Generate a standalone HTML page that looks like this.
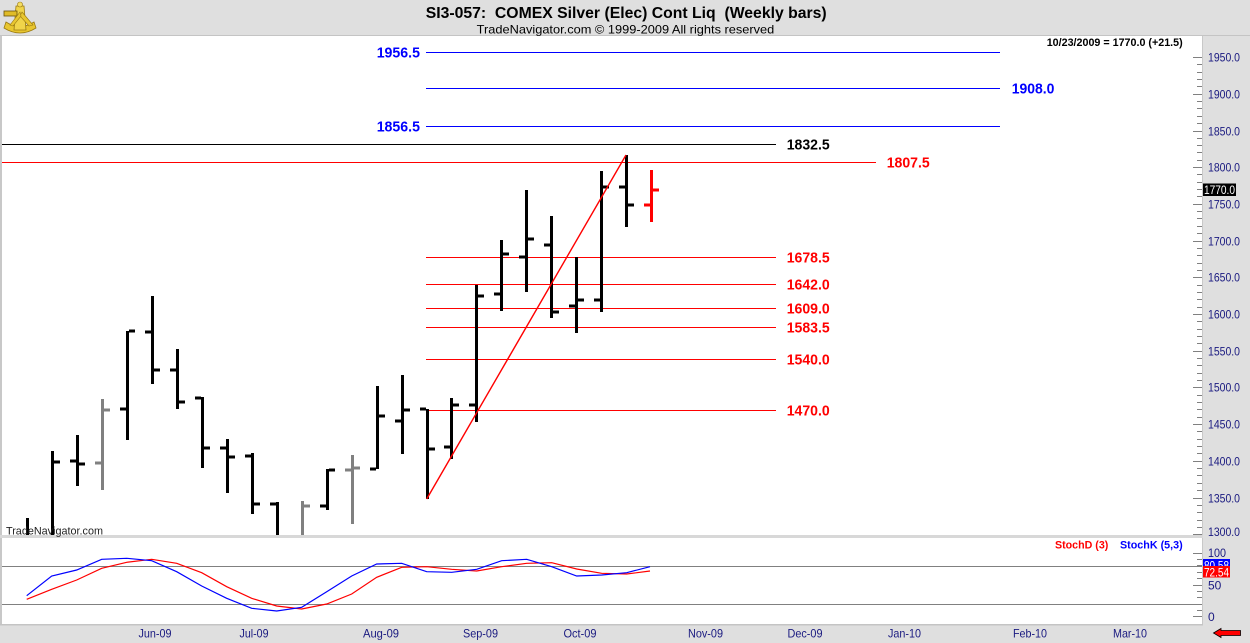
<!DOCTYPE html>
<html>
<head>
<meta charset="utf-8">
<style>
html,body{margin:0;padding:0;background:#dfdfdf;}
svg{display:block;}
text{font-family:"Liberation Sans",Arial,sans-serif;}
</style>
</head>
<body>
<svg width="1250" height="643" viewBox="0 0 1250 643" xmlns="http://www.w3.org/2000/svg">
<!-- backgrounds -->
<rect x="0" y="0" width="1250" height="643" fill="#dfdfdf"/>
<rect x="0" y="35" width="1250" height="1" fill="#c4c4c4"/>
<rect x="2" y="36" width="1200" height="499" fill="#ffffff"/>
<rect x="2" y="538" width="1200" height="86" fill="#ffffff"/>
<rect x="0" y="36" width="2" height="589" fill="#c8c8c8"/>
<rect x="1202" y="36" width="1" height="589" fill="#c8c8c8"/>
<rect x="0" y="535" width="1203" height="3" fill="#d8d8d8"/>
<rect x="0" y="624" width="1203" height="1.5" fill="#c4c4c4"/>

<!-- logo -->
<g>
<path d="M6,22 Q20,31 34,22 L36,28 Q20,38 4,28 Z" fill="#e8c630" stroke="#9a7a10" stroke-width="0.8"/>
<path d="M16,6 L24,6 L26,30 L14,30 Z" fill="#f0d44a" stroke="#9a7a10" stroke-width="0.8"/>
<rect x="4" y="11" width="13" height="5" fill="#e0bc28" stroke="#6a500c" stroke-width="0.8"/>
<path d="M22,12 L33,25 L29,26 L20,16 Z" fill="#e8c630" stroke="#9a7a10" stroke-width="0.6"/>
<path d="M20,12 L10,25 L13,26 L21,16 Z" fill="#e8c630" stroke="#9a7a10" stroke-width="0.6"/>
<circle cx="20" cy="4.5" r="2.5" fill="#f4dc60" stroke="#9a7a10" stroke-width="0.6"/>
</g>

<!-- title -->
<text x="425.7" y="18" font-size="16" font-weight="bold" fill="#000" textLength="401" lengthAdjust="spacingAndGlyphs" xml:space="preserve">SI3-057:  COMEX Silver (Elec) Cont Liq  (Weekly bars)</text>
<text x="476.7" y="33.5" font-size="12" fill="#000" textLength="297.6" lengthAdjust="spacingAndGlyphs">TradeNavigator.com © 1999-2009 All rights reserved</text>

<!-- date label -->
<text x="1046.7" y="46" font-size="11" font-weight="bold" fill="#000" textLength="136" lengthAdjust="spacingAndGlyphs">10/23/2009 = 1770.0 (+21.5)</text>

<!-- horizontal level lines -->
<g stroke-width="1" shape-rendering="crispEdges">
<line x1="426" y1="52.5" x2="1000" y2="52.5" stroke="#0000ff"/>
<line x1="426" y1="88.5" x2="1000" y2="88.5" stroke="#0000ff"/>
<line x1="426" y1="126.5" x2="1000" y2="126.5" stroke="#0000ff"/>
<line x1="2" y1="144.5" x2="776" y2="144.5" stroke="#000000"/>
<line x1="2" y1="162.5" x2="876" y2="162.5" stroke="#ff0000"/>
<line x1="426" y1="257.5" x2="776" y2="257.5" stroke="#ff0000"/>
<line x1="426" y1="284.5" x2="776" y2="284.5" stroke="#ff0000"/>
<line x1="426" y1="308.5" x2="776" y2="308.5" stroke="#ff0000"/>
<line x1="426" y1="327.5" x2="776" y2="327.5" stroke="#ff0000"/>
<line x1="426" y1="359.5" x2="776" y2="359.5" stroke="#ff0000"/>
<line x1="426" y1="410.5" x2="776" y2="410.5" stroke="#ff0000"/>
</g>

<!-- level labels -->
<g font-size="15" font-weight="bold">
<text x="376.7" y="57.5" fill="#0000ff" textLength="43.3" lengthAdjust="spacingAndGlyphs">1956.5</text>
<text x="1011.7" y="93.5" fill="#0000ff" textLength="42.7" lengthAdjust="spacingAndGlyphs">1908.0</text>
<text x="376.7" y="131.5" fill="#0000ff" textLength="43.3" lengthAdjust="spacingAndGlyphs">1856.5</text>
<text x="786.7" y="149.5" fill="#000000" textLength="43" lengthAdjust="spacingAndGlyphs">1832.5</text>
<text x="886.7" y="167.5" fill="#ff0000" textLength="43" lengthAdjust="spacingAndGlyphs">1807.5</text>
<text x="786.7" y="262.5" fill="#ff0000" textLength="43" lengthAdjust="spacingAndGlyphs">1678.5</text>
<text x="786.7" y="289.5" fill="#ff0000" textLength="43" lengthAdjust="spacingAndGlyphs">1642.0</text>
<text x="786.7" y="313.5" fill="#ff0000" textLength="43" lengthAdjust="spacingAndGlyphs">1609.0</text>
<text x="786.7" y="332.5" fill="#ff0000" textLength="43" lengthAdjust="spacingAndGlyphs">1583.5</text>
<text x="786.7" y="364.5" fill="#ff0000" textLength="43" lengthAdjust="spacingAndGlyphs">1540.0</text>
<text x="786.7" y="415.5" fill="#ff0000" textLength="43" lengthAdjust="spacingAndGlyphs">1470.0</text>
</g>

<!-- bars -->
<defs><clipPath id="mainclip"><rect x="2" y="36" width="1200" height="499"/></clipPath></defs>
<g clip-path="url(#mainclip)" shape-rendering="crispEdges">
<rect x="26" y="518" width="3" height="20" fill="#000"/>
<rect x="51" y="451" width="3" height="87" fill="#000"/>
<rect x="54" y="460.5" width="6" height="3" fill="#000"/>
<rect x="76" y="435" width="3" height="51" fill="#000"/>
<rect x="70" y="459.5" width="6" height="3" fill="#000"/>
<rect x="79" y="462.5" width="6" height="3" fill="#000"/>
<rect x="101" y="399" width="3" height="91" fill="#808080"/>
<rect x="95" y="461.5" width="6" height="3" fill="#808080"/>
<rect x="104" y="408.5" width="6" height="3" fill="#808080"/>
<rect x="126" y="331" width="3" height="109" fill="#000"/>
<rect x="120" y="407.5" width="6" height="3" fill="#000"/>
<rect x="129" y="329.5" width="6" height="3" fill="#000"/>
<rect x="151" y="296" width="3" height="88" fill="#000"/>
<rect x="145" y="330.5" width="6" height="3" fill="#000"/>
<rect x="154" y="368.5" width="6" height="3" fill="#000"/>
<rect x="176" y="349" width="3" height="60" fill="#000"/>
<rect x="170" y="368.5" width="6" height="3" fill="#000"/>
<rect x="179" y="400.5" width="6" height="3" fill="#000"/>
<rect x="201" y="397" width="3" height="71" fill="#000"/>
<rect x="195" y="396.5" width="6" height="3" fill="#000"/>
<rect x="204" y="446.5" width="6" height="3" fill="#000"/>
<rect x="226" y="439" width="3" height="54" fill="#000"/>
<rect x="220" y="446.5" width="6" height="3" fill="#000"/>
<rect x="229" y="455.5" width="6" height="3" fill="#000"/>
<rect x="251" y="453" width="3" height="61" fill="#000"/>
<rect x="245" y="454.5" width="6" height="3" fill="#000"/>
<rect x="254" y="502.5" width="6" height="3" fill="#000"/>
<rect x="276" y="502" width="3" height="36" fill="#000"/>
<rect x="270" y="502.5" width="6" height="3" fill="#000"/>
<rect x="301" y="501" width="3" height="37" fill="#808080"/>
<rect x="304" y="504.5" width="6" height="3" fill="#808080"/>
<rect x="326" y="469" width="3" height="41" fill="#000"/>
<rect x="320" y="504.5" width="6" height="3" fill="#000"/>
<rect x="329" y="468.5" width="6" height="3" fill="#000"/>
<rect x="351" y="455" width="3" height="69" fill="#808080"/>
<rect x="345" y="468.5" width="6" height="3" fill="#808080"/>
<rect x="354" y="466.5" width="6" height="3" fill="#808080"/>
<rect x="376" y="386" width="3" height="83" fill="#000"/>
<rect x="370" y="467.5" width="6" height="3" fill="#000"/>
<rect x="379" y="414.5" width="6" height="3" fill="#000"/>
<rect x="401" y="375" width="3" height="79" fill="#000"/>
<rect x="395" y="419.5" width="6" height="3" fill="#000"/>
<rect x="404" y="408.5" width="6" height="3" fill="#000"/>
<rect x="426" y="409" width="3" height="90" fill="#000"/>
<rect x="420" y="407.5" width="6" height="3" fill="#000"/>
<rect x="429" y="447.5" width="6" height="3" fill="#000"/>
<rect x="450" y="398" width="3" height="61" fill="#000"/>
<rect x="444" y="445.5" width="6" height="3" fill="#000"/>
<rect x="453" y="403.5" width="6" height="3" fill="#000"/>
<rect x="475" y="285" width="3" height="137" fill="#000"/>
<rect x="469" y="403.5" width="6" height="3" fill="#000"/>
<rect x="478" y="294.5" width="6" height="3" fill="#000"/>
<rect x="500" y="240" width="3" height="71" fill="#000"/>
<rect x="494" y="292.5" width="6" height="3" fill="#000"/>
<rect x="503" y="252.5" width="6" height="3" fill="#000"/>
<rect x="525" y="190" width="3" height="102" fill="#000"/>
<rect x="519" y="255.5" width="6" height="3" fill="#000"/>
<rect x="528" y="237.5" width="6" height="3" fill="#000"/>
<rect x="550" y="216" width="3" height="102" fill="#000"/>
<rect x="544" y="243.5" width="6" height="3" fill="#000"/>
<rect x="553" y="310.5" width="6" height="3" fill="#000"/>
<rect x="575" y="257" width="3" height="76" fill="#000"/>
<rect x="569" y="304.5" width="6" height="3" fill="#000"/>
<rect x="578" y="298.5" width="6" height="3" fill="#000"/>
<rect x="600" y="171" width="3" height="141" fill="#000"/>
<rect x="594" y="298.5" width="6" height="3" fill="#000"/>
<rect x="603" y="185.5" width="6" height="3" fill="#000"/>
<rect x="625" y="155" width="3" height="72" fill="#000"/>
<rect x="619" y="185.5" width="6" height="3" fill="#000"/>
<rect x="628" y="203.5" width="6" height="3" fill="#000"/>
<rect x="650" y="170" width="3" height="52" fill="#ff0000"/>
<rect x="644" y="203.5" width="6" height="3" fill="#ff0000"/>
<rect x="653" y="188.5" width="6" height="3" fill="#ff0000"/>
</g>

<!-- trend line -->
<line x1="426.7" y1="499" x2="626" y2="155" stroke="#ff0000" stroke-width="1.4"/>

<!-- TradeNavigator watermark -->
<text x="6" y="534.5" font-size="11" fill="#222" textLength="97" lengthAdjust="spacingAndGlyphs">TradeNavigator.com</text>

<!-- right price axis ticks -->
<g stroke="#808080" stroke-width="1" shape-rendering="crispEdges">
<line x1="1193" y1="57.5" x2="1202" y2="57.5"/>
<line x1="1197" y1="64.5" x2="1202" y2="64.5"/>
<line x1="1197" y1="72.5" x2="1202" y2="72.5"/>
<line x1="1197" y1="79.5" x2="1202" y2="79.5"/>
<line x1="1197" y1="86.5" x2="1202" y2="86.5"/>
<line x1="1193" y1="94.5" x2="1202" y2="94.5"/>
<line x1="1197" y1="101.5" x2="1202" y2="101.5"/>
<line x1="1197" y1="108.5" x2="1202" y2="108.5"/>
<line x1="1197" y1="116.5" x2="1202" y2="116.5"/>
<line x1="1197" y1="123.5" x2="1202" y2="123.5"/>
<line x1="1193" y1="131.5" x2="1202" y2="131.5"/>
<line x1="1197" y1="138.5" x2="1202" y2="138.5"/>
<line x1="1197" y1="145.5" x2="1202" y2="145.5"/>
<line x1="1197" y1="152.5" x2="1202" y2="152.5"/>
<line x1="1197" y1="160.5" x2="1202" y2="160.5"/>
<line x1="1193" y1="167.5" x2="1202" y2="167.5"/>
<line x1="1197" y1="174.5" x2="1202" y2="174.5"/>
<line x1="1197" y1="182.5" x2="1202" y2="182.5"/>
<line x1="1197" y1="189.5" x2="1202" y2="189.5"/>
<line x1="1197" y1="196.5" x2="1202" y2="196.5"/>
<line x1="1193" y1="204.5" x2="1202" y2="204.5"/>
<line x1="1197" y1="211.5" x2="1202" y2="211.5"/>
<line x1="1197" y1="218.5" x2="1202" y2="218.5"/>
<line x1="1197" y1="226.5" x2="1202" y2="226.5"/>
<line x1="1197" y1="233.5" x2="1202" y2="233.5"/>
<line x1="1193" y1="241.5" x2="1202" y2="241.5"/>
<line x1="1197" y1="248.5" x2="1202" y2="248.5"/>
<line x1="1197" y1="255.5" x2="1202" y2="255.5"/>
<line x1="1197" y1="263.5" x2="1202" y2="263.5"/>
<line x1="1197" y1="270.5" x2="1202" y2="270.5"/>
<line x1="1193" y1="277.5" x2="1202" y2="277.5"/>
<line x1="1197" y1="285.5" x2="1202" y2="285.5"/>
<line x1="1197" y1="292.5" x2="1202" y2="292.5"/>
<line x1="1197" y1="299.5" x2="1202" y2="299.5"/>
<line x1="1197" y1="307.5" x2="1202" y2="307.5"/>
<line x1="1193" y1="314.5" x2="1202" y2="314.5"/>
<line x1="1197" y1="321.5" x2="1202" y2="321.5"/>
<line x1="1197" y1="329.5" x2="1202" y2="329.5"/>
<line x1="1197" y1="336.5" x2="1202" y2="336.5"/>
<line x1="1197" y1="343.5" x2="1202" y2="343.5"/>
<line x1="1193" y1="351.5" x2="1202" y2="351.5"/>
<line x1="1197" y1="358.5" x2="1202" y2="358.5"/>
<line x1="1197" y1="365.5" x2="1202" y2="365.5"/>
<line x1="1197" y1="373.5" x2="1202" y2="373.5"/>
<line x1="1197" y1="380.5" x2="1202" y2="380.5"/>
<line x1="1193" y1="387.5" x2="1202" y2="387.5"/>
<line x1="1197" y1="395.5" x2="1202" y2="395.5"/>
<line x1="1197" y1="402.5" x2="1202" y2="402.5"/>
<line x1="1197" y1="409.5" x2="1202" y2="409.5"/>
<line x1="1197" y1="417.5" x2="1202" y2="417.5"/>
<line x1="1193" y1="424.5" x2="1202" y2="424.5"/>
<line x1="1197" y1="431.5" x2="1202" y2="431.5"/>
<line x1="1197" y1="439.5" x2="1202" y2="439.5"/>
<line x1="1197" y1="446.5" x2="1202" y2="446.5"/>
<line x1="1197" y1="453.5" x2="1202" y2="453.5"/>
<line x1="1193" y1="461.5" x2="1202" y2="461.5"/>
<line x1="1197" y1="468.5" x2="1202" y2="468.5"/>
<line x1="1197" y1="475.5" x2="1202" y2="475.5"/>
<line x1="1197" y1="483.5" x2="1202" y2="483.5"/>
<line x1="1197" y1="490.5" x2="1202" y2="490.5"/>
<line x1="1193" y1="498.5" x2="1202" y2="498.5"/>
<line x1="1197" y1="505.5" x2="1202" y2="505.5"/>
<line x1="1197" y1="512.5" x2="1202" y2="512.5"/>
<line x1="1197" y1="520.5" x2="1202" y2="520.5"/>
<line x1="1197" y1="527.5" x2="1202" y2="527.5"/>
<line x1="1193" y1="534.5" x2="1202" y2="534.5"/>
</g>

<!-- price labels -->
<g font-size="12" fill="#1a1a80">
<text x="1208" y="61.5" textLength="32" lengthAdjust="spacingAndGlyphs">1950.0</text>
<text x="1208" y="98.5" textLength="32" lengthAdjust="spacingAndGlyphs">1900.0</text>
<text x="1208" y="135.5" textLength="32" lengthAdjust="spacingAndGlyphs">1850.0</text>
<text x="1208" y="171.5" textLength="32" lengthAdjust="spacingAndGlyphs">1800.0</text>
<text x="1208" y="208.5" textLength="32" lengthAdjust="spacingAndGlyphs">1750.0</text>
<text x="1208" y="245.5" textLength="32" lengthAdjust="spacingAndGlyphs">1700.0</text>
<text x="1208" y="281.5" textLength="32" lengthAdjust="spacingAndGlyphs">1650.0</text>
<text x="1208" y="318.5" textLength="32" lengthAdjust="spacingAndGlyphs">1600.0</text>
<text x="1208" y="355.5" textLength="32" lengthAdjust="spacingAndGlyphs">1550.0</text>
<text x="1208" y="391.5" textLength="32" lengthAdjust="spacingAndGlyphs">1500.0</text>
<text x="1208" y="428.5" textLength="32" lengthAdjust="spacingAndGlyphs">1450.0</text>
<text x="1208" y="465.5" textLength="32" lengthAdjust="spacingAndGlyphs">1400.0</text>
<text x="1208" y="502.5" textLength="32" lengthAdjust="spacingAndGlyphs">1350.0</text>
<text x="1208" y="536" textLength="32" lengthAdjust="spacingAndGlyphs">1300.0</text>
</g>
<!-- current price box -->
<rect x="1203" y="183.5" width="33" height="12.5" fill="#000"/>
<text x="1204" y="194" font-size="12" fill="#fff" textLength="31" lengthAdjust="spacingAndGlyphs">1770.0</text>

<!-- stochastic panel -->
<g stroke="#808080" stroke-width="1" shape-rendering="crispEdges">
<line x1="2" y1="566.5" x2="1202" y2="566.5"/>
<line x1="2" y1="604.5" x2="1202" y2="604.5"/>
</g>
<polyline fill="none" stroke="#ff0000" stroke-width="1.2" points="26.7,599.3 51.7,589.3 76.7,580 101.7,568.3 126.7,562.3 151.7,559.3 176.7,563.3 201.7,572.7 226.7,586.7 251.7,598.3 276.7,606 301.7,609 326.7,604 351.7,594 376.7,577.3 401.7,567.3 426.7,566.7 451.7,569.3 476.7,571 501.7,566.7 526.7,563.3 551.7,562.7 576.7,569 601.7,573.3 626.7,574 650,571"/>
<polyline fill="none" stroke="#0000ff" stroke-width="1.2" points="26.7,595.7 51.7,576 76.7,570 101.7,559.3 126.7,558.3 151.7,560.7 176.7,571.7 201.7,586 226.7,598.3 251.7,608.3 276.7,611 301.7,607.3 326.7,591.7 351.7,576 376.7,564 401.7,563.3 426.7,571.7 451.7,572.3 476.7,569.3 501.7,560.7 526.7,559.3 551.7,566.7 576.7,576 601.7,575 626.7,572.7 650,566.7"/>

<text x="1055" y="548.3" font-size="11" font-weight="bold" fill="#ff0000" textLength="53.3" lengthAdjust="spacingAndGlyphs">StochD (3)</text>
<text x="1120" y="548.3" font-size="11" font-weight="bold" fill="#0000ff" textLength="62.7" lengthAdjust="spacingAndGlyphs">StochK (5,3)</text>

<g stroke="#808080" stroke-width="1" shape-rendering="crispEdges">
<line x1="1193" y1="553.5" x2="1202" y2="553.5"/>
<line x1="1197" y1="559.5" x2="1202" y2="559.5"/>
<line x1="1197" y1="565.5" x2="1202" y2="565.5"/>
<line x1="1197" y1="572.5" x2="1202" y2="572.5"/>
<line x1="1197" y1="578.5" x2="1202" y2="578.5"/>
<line x1="1193" y1="585.5" x2="1202" y2="585.5"/>
<line x1="1197" y1="591.5" x2="1202" y2="591.5"/>
<line x1="1197" y1="597.5" x2="1202" y2="597.5"/>
<line x1="1197" y1="604.5" x2="1202" y2="604.5"/>
<line x1="1197" y1="610.5" x2="1202" y2="610.5"/>
<line x1="1193" y1="616.5" x2="1202" y2="616.5"/>
</g>
<g font-size="12" fill="#1a1a80">
<text x="1208" y="557" textLength="18" lengthAdjust="spacingAndGlyphs">100</text>
<text x="1208" y="589.5">50</text>
<text x="1208" y="621">0</text>
</g>
<rect x="1203" y="559" width="27" height="12" fill="#0000ff"/>
<text x="1204" y="569.5" font-size="12" fill="#fff" textLength="25" lengthAdjust="spacingAndGlyphs">80.58</text>
<rect x="1203" y="566" width="27" height="11.5" fill="#ff0000"/>
<text x="1204" y="576.5" font-size="12" fill="#fff" textLength="25" lengthAdjust="spacingAndGlyphs">72.54</text>

<!-- date axis -->
<g font-size="12" fill="#1a1a80" text-anchor="middle">
<text x="155" y="637.5" textLength="33" lengthAdjust="spacingAndGlyphs">Jun-09</text>
<text x="254" y="637.5" textLength="29" lengthAdjust="spacingAndGlyphs">Jul-09</text>
<text x="381" y="637.5" textLength="36" lengthAdjust="spacingAndGlyphs">Aug-09</text>
<text x="480.5" y="637.5" textLength="35" lengthAdjust="spacingAndGlyphs">Sep-09</text>
<text x="580" y="637.5" textLength="33" lengthAdjust="spacingAndGlyphs">Oct-09</text>
<text x="705.5" y="637.5" textLength="35" lengthAdjust="spacingAndGlyphs">Nov-09</text>
<text x="805" y="637.5" textLength="35" lengthAdjust="spacingAndGlyphs">Dec-09</text>
<text x="904.5" y="637.5" textLength="33" lengthAdjust="spacingAndGlyphs">Jan-10</text>
<text x="1030" y="637.5" textLength="34" lengthAdjust="spacingAndGlyphs">Feb-10</text>
<text x="1130" y="637.5" textLength="34" lengthAdjust="spacingAndGlyphs">Mar-10</text>
</g>

<!-- red arrow -->
<path d="M1213.5,633 L1221,628.5 L1221,630.5 L1240.5,630.5 L1240.5,635.5 L1221,635.5 L1221,637.5 Z" fill="#ff0000" stroke="#000" stroke-width="0.8"/>
</svg>
</body>
</html>
